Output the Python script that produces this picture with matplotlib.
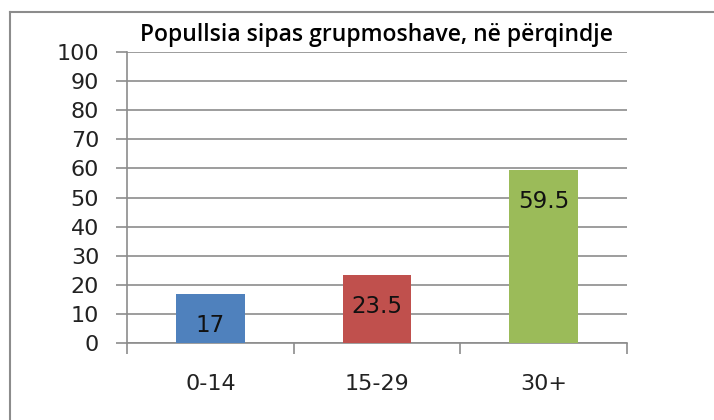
import matplotlib.pyplot as plt
from matplotlib.lines import Line2D

# Data
groups = ['0-14', '15-29', '30+']
shares = [17, 23.5, 59.5]
value_labels = ['17', '23.5', '59.5']
bar_colors = ['#4F81BD', '#C0504D', '#9BBB59']
y_ticks = list(range(0, 101, 10))

fig = plt.figure(figsize=(7.14, 4.2), dpi=100)
ax = fig.add_axes([127 / 714, 1 - 343 / 420, 500 / 714, 291 / 420])

positions = list(range(len(groups)))
bars = ax.bar(positions, shares, width=0.41, color=bar_colors, zorder=3)

# Labels inside the top of each bar
for bar, text in zip(bars, value_labels):
    ax.annotate(text, (bar.get_x() + bar.get_width() / 2, bar.get_height()),
                xytext=(0, -23), textcoords='offset points',
                ha='center', va='center', fontsize=16.5, color='#111111', zorder=4)

ax.set_xlim(-0.5, len(groups) - 0.5)
ax.set_ylim(0, 100)
ax.set_yticks(y_ticks)
ax.set_yticklabels([str(t) for t in y_ticks])
ax.set_xticks([p - 0.5 for p in positions] + [len(groups) - 0.5])
ax.set_xticklabels([])
ax.set_xticks(positions, minor=True)
ax.set_xticklabels(groups, minor=True)

ax.yaxis.grid(True, color='#8c8c8c', linewidth=1.2, zorder=0)
ax.xaxis.grid(False)
for side in ['top', 'right']:
    ax.spines[side].set_visible(False)
ax.spines['left'].set_color('#8c8c8c')
ax.spines['bottom'].set_color('#8c8c8c')
ax.spines['left'].set_linewidth(1.2)
ax.spines['bottom'].set_linewidth(1.2)

ax.tick_params(axis='y', length=8, width=1.2, color='#8c8c8c', labelsize=16,
               labelcolor='#222222', pad=12)
ax.tick_params(axis='x', which='major', length=8, width=1.2, color='#8c8c8c')
ax.tick_params(axis='x', which='minor', length=0, labelsize=16,
               labelcolor='#222222', pad=22)

ax.set_title('Popullsia sipas grupmoshave, në përqindje', fontsize=16.5,
             family='Open Sans', fontweight='semibold', pad=8)

# Outer chart border (left and top edges visible)
fig.add_artist(Line2D([10 / 714, 10 / 714], [0, 1 - 12 / 420],
                      color='#8c8c8c', linewidth=1.5))
fig.add_artist(Line2D([10 / 714, 1], [1 - 12 / 420, 1 - 12 / 420],
                      color='#8c8c8c', linewidth=1.5))

fig.savefig('out.png', dpi=100)
